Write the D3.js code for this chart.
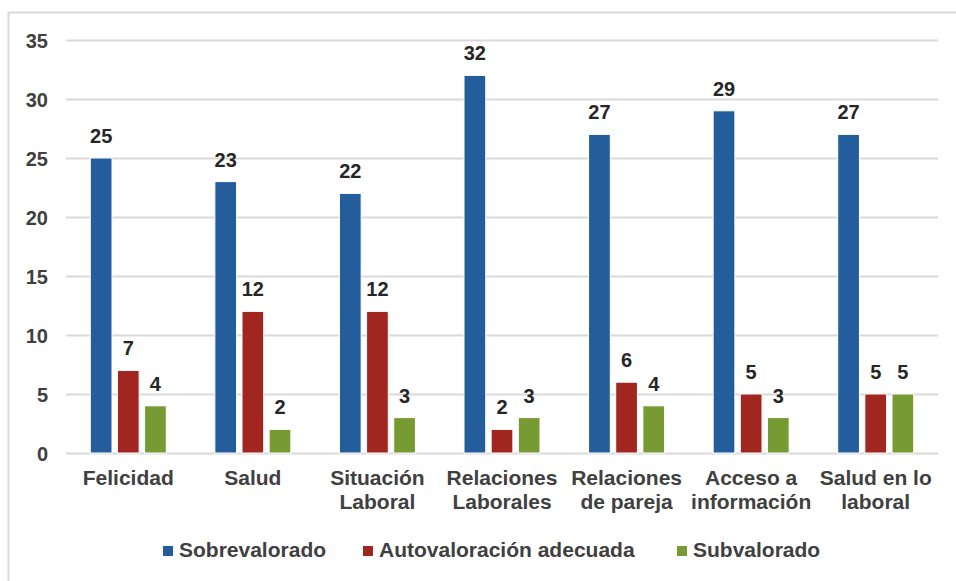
<!DOCTYPE html>
<html><head><meta charset="utf-8">
<script src="https://cdn.jsdelivr.net/npm/d3@7"></script>
<style>body{margin:0;background:#fff}svg{display:block}text{font-family:"Liberation Sans",Arial,sans-serif;font-weight:bold}</style>
</head><body><svg id="c" width="956" height="581"></svg>
<script>
const categories = [["Felicidad"],["Salud"],["Situación","Laboral"],["Relaciones","Laborales"],["Relaciones","de pareja"],["Acceso a","información"],["Salud en lo","laboral"]];
const seriesNames = ["Sobrevalorado","Autovaloración adecuada","Subvalorado"];
const sobrevalorado = [25,23,22,32,27,29,27];
const autovaloracion = [7,12,12,2,6,5,5];
const subvalorado = [4,2,3,3,4,3,5];
const yTicks = [0,5,10,15,20,25,30,35];
const colors = ["#245D9B","#A12620","#789A33"];

const series = [sobrevalorado, autovaloracion, subvalorado];
const svg = d3.select("#c");
svg.append("rect").attr("x",8.5).attr("y",12.5).attr("width",960).attr("height",600).attr("fill","none").attr("stroke","#d9d9d9").attr("stroke-width",2);

const x0 = d3.scaleBand().domain(d3.range(categories.length)).range([66,938]).paddingInner(0.39).paddingOuter(0.195);
const x1 = d3.scaleBand().domain(d3.range(3)).range([0,x0.bandwidth()]).paddingInner(0.2).paddingOuter(0);
const y = d3.scaleLinear().domain([0,35]).range([453,40]);

const g = svg.append("g");
g.selectAll("line.grid").data(yTicks).join("line").attr("x1",66).attr("x2",938)
 .attr("y1",d=>Math.round(y(d))+0.5).attr("y2",d=>Math.round(y(d))+0.5).attr("stroke","#d9d9d9").attr("stroke-width",2);
const yAxis = d3.axisLeft(y).tickValues(yTicks).tickSize(0).tickPadding(0);
const ya = svg.append("g").attr("transform","translate(48,0)").call(yAxis);
ya.select(".domain").remove();
ya.selectAll("text").attr("font-size",20).attr("fill","#404040").attr("font-family","Liberation Sans, Arial, sans-serif").attr("font-weight","bold").attr("dy","0.36em");

categories.forEach((c,i)=>{
  series.forEach((s,j)=>{
    const bx = x0(i)+x1(j);
    g.append("rect").attr("x",bx).attr("y",y(s[i])).attr("width",x1.bandwidth()).attr("height",y(0)-y(s[i]))
     .attr("fill",colors[j]).attr("stroke","#fff").attr("stroke-width",1);
    g.append("text").attr("x",bx+x1.bandwidth()/2).attr("y",y(s[i])-15).attr("text-anchor","middle")
     .attr("font-size",20).attr("fill","#262626").text(s[i]);
  });
  const t = g.append("text").attr("text-anchor","middle").attr("font-size",21).attr("fill","#404040");
  c.forEach((line,k)=>t.append("tspan").attr("x",x0(i)+x0.bandwidth()/2).attr("y",485+k*24).text(line));
});

const legX = [163,363,677];
seriesNames.forEach((n,j)=>{
  svg.append("rect").attr("x",legX[j]).attr("y",546).attr("width",10).attr("height",10).attr("fill",colors[j]);
  svg.append("text").attr("x",legX[j]+16).attr("y",557).attr("font-size",21).attr("fill","#404040").text(n);
});
</script></body></html>
